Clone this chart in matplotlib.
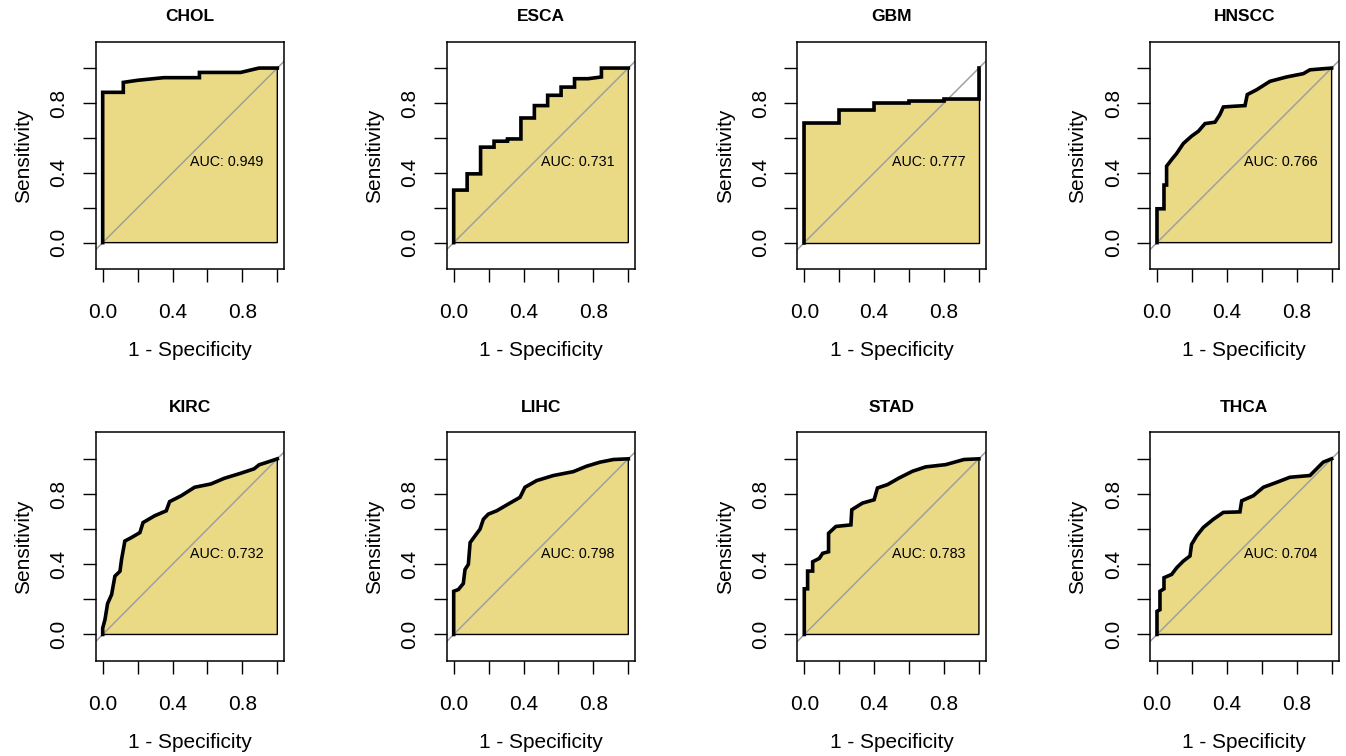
import matplotlib
matplotlib.use('Agg')
import matplotlib.pyplot as plt

plt.rcParams['font.family'] = ['Liberation Sans', 'DejaVu Sans']

# ---------------
# Data
# ---------------
cancers = ['CHOL', 'ESCA', 'GBM', 'HNSCC', 'KIRC', 'LIHC', 'STAD', 'THCA']
auc_values = [0.949, 0.731, 0.777, 0.766, 0.732, 0.798, 0.783, 0.704]

chol_fpr = [0, 0, 0.118, 0.118, 0.2, 0.35, 0.554, 0.554, 0.79, 0.895, 1.0]
chol_tpr = [0, 0.861, 0.861, 0.918, 0.93, 0.945, 0.945, 0.975, 0.975, 1.0, 1.0]

esca_fpr = [0, 0, 0.077, 0.077, 0.154, 0.154, 0.231, 0.231, 0.308, 0.308,
            0.385, 0.385, 0.462, 0.462, 0.538, 0.538, 0.615, 0.615, 0.692,
            0.692, 0.769, 0.846, 0.846, 1.0]
esca_tpr = [0, 0.301, 0.301, 0.394, 0.394, 0.547, 0.547, 0.581, 0.581, 0.594,
            0.594, 0.714, 0.714, 0.785, 0.785, 0.844, 0.844, 0.891, 0.891,
            0.939, 0.939, 0.949, 1.0, 1.0]

gbm_fpr = [0, 0, 0.2, 0.2, 0.4, 0.4, 0.6, 0.6, 0.8, 0.8, 1.0, 1.0]
gbm_tpr = [0, 0.686, 0.686, 0.762, 0.762, 0.802, 0.802, 0.812, 0.812, 0.823,
           0.823, 1.0]

hnscc_fpr = [0, 0, 0.04, 0.04, 0.055, 0.055, 0.084, 0.112, 0.151, 0.198,
             0.237, 0.275, 0.332, 0.36, 0.38, 0.437, 0.504, 0.517, 0.571,
             0.647, 0.742, 0.838, 0.876, 1.0]
hnscc_tpr = [0, 0.194, 0.194, 0.33, 0.33, 0.438, 0.476, 0.51, 0.568, 0.61,
             0.638, 0.682, 0.69, 0.733, 0.777, 0.781, 0.785, 0.848, 0.876,
             0.924, 0.949, 0.968, 0.99, 1.0]

kirc_fpr = [0, 0, 0.013, 0.028, 0.051, 0.07, 0.099, 0.108, 0.127, 0.165,
            0.213, 0.231, 0.298, 0.364, 0.383, 0.45, 0.526, 0.62, 0.696,
            0.791, 0.867, 0.896, 0.943, 1.0]
kirc_tpr = [0, 0.036, 0.084, 0.176, 0.227, 0.332, 0.36, 0.427, 0.532, 0.552,
            0.58, 0.637, 0.676, 0.704, 0.756, 0.79, 0.838, 0.857, 0.889,
            0.918, 0.943, 0.966, 0.981, 1.0]

lihc_fpr = [0, 0, 0.027, 0.055, 0.065, 0.084, 0.094, 0.122, 0.151, 0.17,
            0.198, 0.246, 0.303, 0.38, 0.408, 0.475, 0.571, 0.685, 0.761,
            0.838, 0.914, 1.0]
lihc_tpr = [0, 0.246, 0.256, 0.29, 0.37, 0.399, 0.523, 0.561, 0.6, 0.656,
            0.685, 0.704, 0.737, 0.781, 0.838, 0.876, 0.905, 0.927, 0.958,
            0.981, 0.996, 1.0]

stad_fpr = [0, 0, 0.019, 0.019, 0.048, 0.048, 0.086, 0.105, 0.139, 0.139,
            0.181, 0.267, 0.272, 0.333, 0.4, 0.419, 0.476, 0.543, 0.619,
            0.695, 0.81, 0.914, 1.0]
stad_tpr = [0, 0.26, 0.26, 0.361, 0.361, 0.414, 0.433, 0.462, 0.471, 0.576,
            0.615, 0.624, 0.71, 0.748, 0.767, 0.834, 0.853, 0.891, 0.929,
            0.954, 0.967, 0.996, 1.0]

thca_fpr = [0, 0, 0.017, 0.017, 0.04, 0.04, 0.084, 0.113, 0.151, 0.189,
            0.198, 0.227, 0.265, 0.323, 0.38, 0.475, 0.485, 0.552, 0.609,
            0.685, 0.761, 0.876, 0.914, 0.952, 1.0]
thca_tpr = [0, 0.132, 0.141, 0.246, 0.26, 0.323, 0.342, 0.38, 0.418, 0.447,
            0.513, 0.561, 0.609, 0.656, 0.695, 0.698, 0.761, 0.79, 0.838,
            0.866, 0.895, 0.905, 0.943, 0.981, 1.0]

curves = [(chol_fpr, chol_tpr), (esca_fpr, esca_tpr), (gbm_fpr, gbm_tpr),
          (hnscc_fpr, hnscc_tpr), (kirc_fpr, kirc_tpr), (lihc_fpr, lihc_tpr),
          (stad_fpr, stad_tpr), (thca_fpr, thca_tpr)]

# ---------------
# Layout
# ---------------
W, H = 1346, 756
fig = plt.figure(figsize=(W / 100, H / 100), dpi=100)

col_left = [95.7, 446.7, 797.3, 1150]      # box left edges, px
row_box = [(41.7, 269), (432.3, 661)]      # box top/bottom, px
box_w = 188.6

fill_col = '#EAD985'

for k, name in enumerate(cancers):
    r, c = divmod(k, 4)
    top, bot = row_box[r]
    ax = fig.add_axes([col_left[c] / W, 1 - bot / H, box_w / W, (bot - top) / H])
    fpr, tpr = curves[k]

    # polygon under curve (closed along y=0)
    px = list(fpr) + [1.0, 0.0]
    py = list(tpr) + [0.0, 0.0]
    ax.fill(px, py, facecolor=fill_col, edgecolor='black', lw=1.0, zorder=1)
    ax.plot([-0.04, 1.04], [-0.04, 1.04], color='#a0a0a0', lw=1.1, zorder=2)
    ax.plot(fpr, tpr, color='black', lw=2.6, zorder=3,
            solid_joinstyle='miter')
    ax.text(0.5, 0.46, 'AUC: %.3f' % auc_values[k], fontsize=10.3,
            ha='left', va='center', zorder=4)

    ax.set_xlim(-0.04, 1.04)
    ax.set_ylim(-0.151, 1.151)

    ticks = [0, 0.2, 0.4, 0.6, 0.8, 1.0]
    labs = ['0.0', '', '0.4', '', '0.8', '']
    ax.set_xticks(ticks)
    ax.set_xticklabels(labs)
    ax.set_yticks(ticks)
    ax.set_yticklabels(labs)
    ax.tick_params(length=9.5, width=1.0, labelsize=15, direction='out')
    ax.tick_params(axis='x', pad=15)
    ax.tick_params(axis='y', pad=10)
    for lab in ax.get_yticklabels():
        lab.set_rotation(90)
        lab.set_va('center')
    for sp in ax.spines.values():
        sp.set_linewidth(1.1)

    ax.set_xlabel('1 - Specificity', fontsize=15, labelpad=14)
    ax.set_ylabel('Sensitivity', fontsize=15, labelpad=12)
    ax.annotate(name, xy=(0.5, 1), xycoords='axes fraction',
                xytext=(0, 18), textcoords='offset points',
                ha='center', va='center', fontsize=12.5, fontweight='bold')

fig.savefig('out.png', dpi=100)
